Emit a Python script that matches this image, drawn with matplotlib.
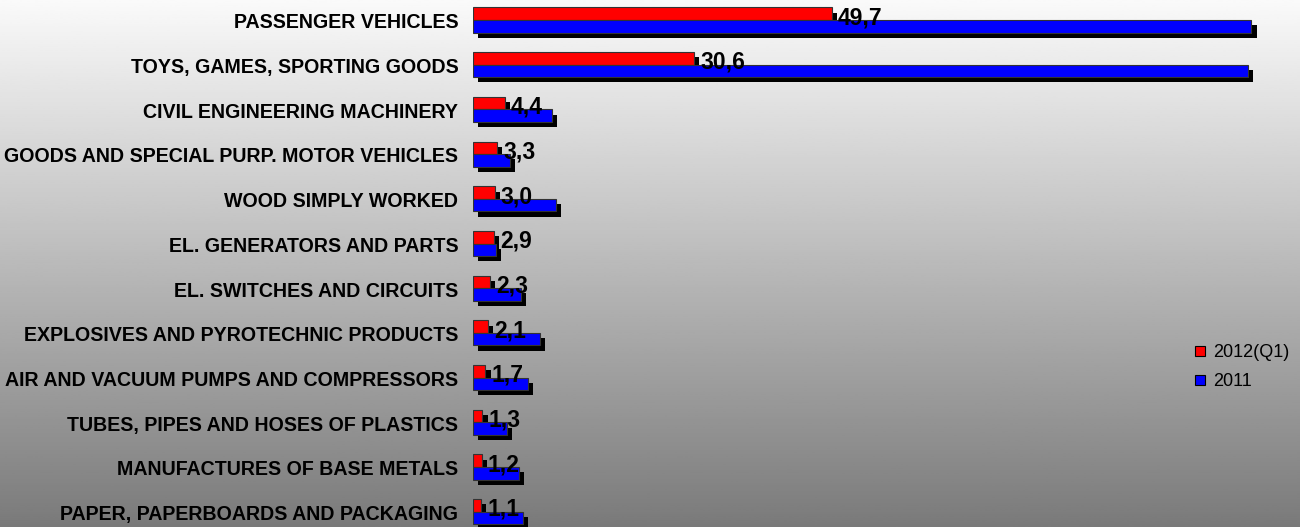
import numpy as np
import matplotlib
matplotlib.use('Agg')
import matplotlib.pyplot as plt
import matplotlib.patheffects as pe
from matplotlib.lines import Line2D

plt.rcParams['font.family'] = ['Liberation Sans', 'DejaVu Sans']

categorias = ['PASSENGER VEHICLES', 'TOYS, GAMES, SPORTING GOODS',
              'CIVIL ENGINEERING MACHINERY', 'GOODS AND SPECIAL PURP. MOTOR VEHICLES',
              'WOOD SIMPLY WORKED', 'EL. GENERATORS AND PARTS',
              'EL. SWITCHES AND CIRCUITS', 'EXPLOSIVES AND PYROTECHNIC PRODUCTS',
              'AIR AND VACUUM PUMPS AND COMPRESSORS', 'TUBES, PIPES AND HOSES OF PLASTICS',
              'MANUFACTURES OF BASE METALS', 'PAPER, PAPERBOARDS AND PACKAGING']
valores_2012 = [49.7, 30.6, 4.4, 3.3, 3.0, 2.9, 2.3, 2.1, 1.7, 1.3, 1.2, 1.1]
valores_2011 = [107.8, 107.3, 10.9, 5.1, 11.5, 3.2, 6.6, 9.3, 7.6, 4.7, 6.4, 6.9]
series = ['2012(Q1)', '2011']
colores = ['#ff0000', '#0000ff']

fig = plt.figure(figsize=(13, 5.27), dpi=100)

# fondo degradado
fondo = fig.add_axes([0, 0, 1, 1], zorder=0)
grad = np.linspace(250, 122, 256).reshape(-1, 1) / 255.0
fondo.imshow(np.repeat(grad, 2, axis=1), cmap='gray', vmin=0, vmax=1,
             aspect='auto', extent=[0, 1, 0, 1])
fondo.axis('off')

ax = fig.add_axes([473 / 1300, 0, 827 / 1300, 1], zorder=1)
ax.set_facecolor('none')

y = np.arange(len(categorias))
h = 0.28
sombra = [pe.SimplePatchShadow(offset=(3.8, -3.8), shadow_rgbFace='black', alpha=1.0), pe.Normal()]

barras_r = ax.barh(y - h / 2, valores_2012, height=h, color=colores[0],
                   edgecolor='#333333', linewidth=0.8, zorder=2)
barras_b = ax.barh(y + h / 2, valores_2011, height=h, color=colores[1],
                   edgecolor='#333333', linewidth=0.8, zorder=3)
for b in list(barras_r) + list(barras_b):
    b.set_path_effects(sombra)

# etiquetas de valor (coma decimal)
for i, v in enumerate(valores_2012):
    ax.annotate(('%.1f' % v).replace('.', ','), xy=(v, i - 0.05), xytext=(4.5, 0),
                textcoords='offset points', ha='left', va='center',
                fontsize=16.5, fontweight='bold', color='black', zorder=5)

ax.set_xlim(0, 827 / 7.22)
ax.set_ylim(507 / 44.7, -20 / 44.7)
ax.set_yticks(y + 0.02)
ax.set_yticklabels(categorias, fontsize=14.1, fontweight='bold')
ax.tick_params(axis='y', length=0, pad=10.5)
ax.set_xticks([])
for s in ax.spines.values():
    s.set_visible(False)

handles = [Line2D([], [], marker='s', linestyle='none', markersize=7,
                  markerfacecolor=c, markeredgecolor='black', markeredgewidth=0.8)
           for c in colores]
fig.legend(handles, series, loc='center left', bbox_to_anchor=(1186 / 1300, 1 - 367 / 527),
           frameon=False, fontsize=13, handlelength=0.8, handletextpad=0.3,
           labelspacing=0.65, borderaxespad=0)

fig.savefig('out.png', dpi=100)
